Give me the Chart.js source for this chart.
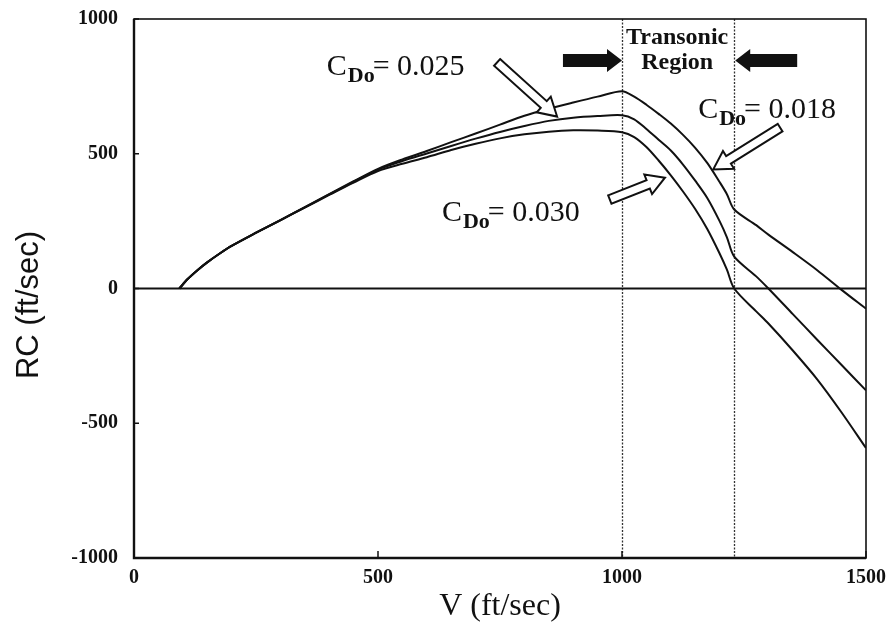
<!DOCTYPE html>
<html>
<head>
<meta charset="utf-8">
<script src="https://cdn.jsdelivr.net/npm/chart.js@4.4.1/dist/chart.umd.min.js"></script>
<style>
  html, body { margin: 0; padding: 0; background: #fff; }
  #wrap { width: 891px; height: 630px; }
</style>
</head>
<body>
<div id="wrap"><canvas id="rcChart" width="891" height="630"></canvas></div>
<script>
// V (ft/sec) sample points
const speeds = [93, 110, 130, 150, 175, 200, 250, 300, 350, 400, 450, 500, 550, 600, 650, 700, 750, 800, 850, 900, 950,
  1000, 1025, 1050, 1075, 1100, 1125, 1150, 1175, 1200, 1215, 1230, 1275, 1300, 1350, 1400, 1450, 1500];

// rate of climb (ft/sec) for each CDo
const rcCdo018 = [0, 35, 68, 97, 129, 158, 207, 254, 302, 350, 398, 444, 479, 510, 543, 575, 608, 641, 667, 690, 712,
  732, 712, 682, 648, 612, 570, 522, 465, 395, 350, 293, 235, 200, 135, 68, -5, -75];
const rcCdo025 = [0, 35, 68, 97, 129, 158, 207, 254, 301, 349, 396, 441, 473, 501, 529, 556, 581, 603, 622, 634, 640,
  643, 628, 592, 552, 512, 460, 400, 335, 250, 190, 118, 45, 0, -95, -190, -284, -378];
const rcCdo030 = [0, 35, 68, 97, 129, 158, 206, 253, 300, 347, 393, 436, 463, 487, 514, 537, 557, 572, 582, 587, 586,
  580, 562, 525, 475, 420, 360, 295, 220, 130, 70, 0, -85, -130, -230, -337, -460, -592];

const xTicks = [0, 500, 1000, 1500];
const yTicks = [-1000, -500, 0, 500, 1000];
const transonicBounds = [1000, 1230];

// annotation placement in data units (V, RC)
const notes = {
  labels: [
    { text: '0.025', v: 395, rc: 794 },
    { text: '0.018', v: 1156, rc: 631 },
    { text: '0.030', v: 631, rc: 249 }
  ],
  hollowArrows: [
    { from: [744, 839], to: [867, 638] },
    { from: [1324, 597], to: [1187, 442] },
    { from: [975, 330], to: [1088, 411] }
  ],
  solidArrows: [
    { from: [879, 846], to: [1000, 846] },
    { from: [1359, 846], to: [1232, 846] }
  ],
  region: { v: 1113, rc: [931, 839], text: ['Transonic', 'Region'] }
};

const serif = '"Liberation Serif", "Times New Roman", serif';
const ink = '#111';

function pts(ys) {
  return speeds.map((v, i) => ({ x: v, y: ys[i] }));
}

function arrowPath(ctx, x0, y0, x1, y1, sw, hw, hl) {
  const ang = Math.atan2(y1 - y0, x1 - x0);
  const len = Math.hypot(x1 - x0, y1 - y0);
  ctx.translate(x0, y0);
  ctx.rotate(ang);
  ctx.beginPath();
  ctx.moveTo(0, -sw);
  ctx.lineTo(len - hl, -sw);
  ctx.lineTo(len - hl, -hw);
  ctx.lineTo(len, 0);
  ctx.lineTo(len - hl, hw);
  ctx.lineTo(len - hl, sw);
  ctx.lineTo(0, sw);
  ctx.closePath();
}

function drawCdo(ctx, x, y, value) {
  ctx.save();
  ctx.fillStyle = ink;
  ctx.textAlign = 'left';
  ctx.textBaseline = 'alphabetic';
  ctx.font = '30px ' + serif;
  ctx.fillText('C', x, y);
  let cx = x + ctx.measureText('C').width + 1;
  ctx.font = 'bold 22px ' + serif;
  ctx.fillText('Do', cx, y + 7);
  cx += ctx.measureText('Do').width - 2;
  ctx.font = '30px ' + serif;
  ctx.fillText('= ' + value, cx, y);
  ctx.restore();
}

const decor = {
  id: 'decor',
  beforeDatasetsDraw(chart) {
    const { ctx, chartArea: a, scales: { x, y } } = chart;
    ctx.save();
    // transonic bounds
    ctx.strokeStyle = '#333';
    ctx.lineWidth = 1.3;
    ctx.setLineDash([2, 1.5]);
    transonicBounds.forEach(v => {
      const px = Math.round(x.getPixelForValue(v)) + 0.5;
      ctx.beginPath();
      ctx.moveTo(px, a.top);
      ctx.lineTo(px, a.bottom);
      ctx.stroke();
    });
    ctx.setLineDash([]);
    // zero line
    const y0 = y.getPixelForValue(0);
    ctx.strokeStyle = ink;
    ctx.lineWidth = 2;
    ctx.beginPath();
    ctx.moveTo(a.left, y0);
    ctx.lineTo(a.right, y0);
    ctx.stroke();
    ctx.restore();
  },
  afterDraw(chart) {
    const { ctx, chartArea: a, scales: { x, y } } = chart;
    ctx.save();
    // frame
    ctx.strokeStyle = ink;
    ctx.lineWidth = 1.6;
    ctx.strokeRect(a.left, a.top, a.right - a.left, a.bottom - a.top);
    ctx.lineWidth = 2.4;
    ctx.beginPath();
    ctx.moveTo(a.left, a.top);
    ctx.lineTo(a.left, a.bottom);
    ctx.lineTo(a.right, a.bottom);
    ctx.stroke();
    // inward ticks
    ctx.lineWidth = 1.5;
    yTicks.forEach(t => {
      const py = y.getPixelForValue(t);
      ctx.beginPath(); ctx.moveTo(a.left, py); ctx.lineTo(a.left + 5, py); ctx.stroke();
    });
    xTicks.forEach(t => {
      const px = x.getPixelForValue(t);
      ctx.beginPath(); ctx.moveTo(px, a.bottom); ctx.lineTo(px, a.bottom - 7); ctx.stroke();
    });

    // y axis title
    ctx.save();
    ctx.translate(29, 305);
    ctx.rotate(-Math.PI / 2);
    ctx.font = '31px "Liberation Sans", Arial, sans-serif';
    ctx.fillStyle = ink;
    ctx.textAlign = 'center';
    ctx.textBaseline = 'middle';
    ctx.fillText('RC (ft/sec)', 0, 0);
    ctx.restore();

    // arrows
    notes.hollowArrows.forEach(ar => {
      ctx.save();
      arrowPath(ctx, x.getPixelForValue(ar.from[0]), y.getPixelForValue(ar.from[1]),
        x.getPixelForValue(ar.to[0]), y.getPixelForValue(ar.to[1]), 4.5, 10.5, 18);
      ctx.fillStyle = '#fff';
      ctx.fill();
      ctx.lineWidth = 2;
      ctx.strokeStyle = ink;
      ctx.lineJoin = 'miter';
      ctx.stroke();
      ctx.restore();
    });
    notes.solidArrows.forEach(ar => {
      ctx.save();
      arrowPath(ctx, x.getPixelForValue(ar.from[0]), y.getPixelForValue(ar.from[1]),
        x.getPixelForValue(ar.to[0]), y.getPixelForValue(ar.to[1]), 6.5, 11.5, 15);
      ctx.fillStyle = ink;
      ctx.fill();
      ctx.restore();
    });

    // labels
    notes.labels.forEach(l => drawCdo(ctx, x.getPixelForValue(l.v), y.getPixelForValue(l.rc), l.text));
    ctx.fillStyle = ink;
    ctx.textAlign = 'center';
    ctx.textBaseline = 'middle';
    ctx.font = 'bold 24px ' + serif;
    notes.region.text.forEach((t, i) => {
      ctx.fillText(t, x.getPixelForValue(notes.region.v), y.getPixelForValue(notes.region.rc[i]));
    });
    ctx.restore();
  }
};

const lineStyle = {
  borderColor: ink,
  borderWidth: 2,
  pointRadius: 0,
  tension: 0.3,
  fill: false
};

new Chart(document.getElementById('rcChart'), {
  type: 'line',
  data: {
    datasets: [
      Object.assign({ label: 'CDo = 0.018', data: pts(rcCdo018) }, lineStyle),
      Object.assign({ label: 'CDo = 0.025', data: pts(rcCdo025) }, lineStyle),
      Object.assign({ label: 'CDo = 0.030', data: pts(rcCdo030) }, lineStyle)
    ]
  },
  options: {
    responsive: false,
    animation: false,
    devicePixelRatio: 1,
    layout: { padding: { top: 19, right: 25, left: 0, bottom: 0 } },
    plugins: { legend: { display: false }, tooltip: { enabled: false } },
    scales: {
      x: {
        type: 'linear',
        min: 0, max: 1500,
        afterBuildTicks: s => { s.ticks = xTicks.map(v => ({ value: v })); },
        afterFit: s => { s.height = 72; s.paddingLeft = 0; s.paddingRight = 0; },
        grid: { display: false, drawTicks: false },
        border: { display: false },
        ticks: { padding: 8, color: ink, maxRotation: 0, callback: v => String(v), font: { family: serif, size: 20, weight: 'bold' } },
        title: { display: true, text: 'V (ft/sec)', color: ink, padding: { top: 0, bottom: 4 }, font: { family: serif, size: 32 } }
      },
      y: {
        type: 'linear',
        min: -1000, max: 1000,
        afterBuildTicks: s => { s.ticks = yTicks.map(v => ({ value: v })); },
        afterFit: s => { s.width = 134; s.paddingTop = 0; s.paddingBottom = 0; },
        grid: { display: false, drawTicks: false },
        border: { display: false },
        ticks: { padding: 16, color: ink, callback: v => String(v), font: { family: serif, size: 20, weight: 'bold' } }
      }
    }
  },
  plugins: [decor]
});
</script>
</body>
</html>
